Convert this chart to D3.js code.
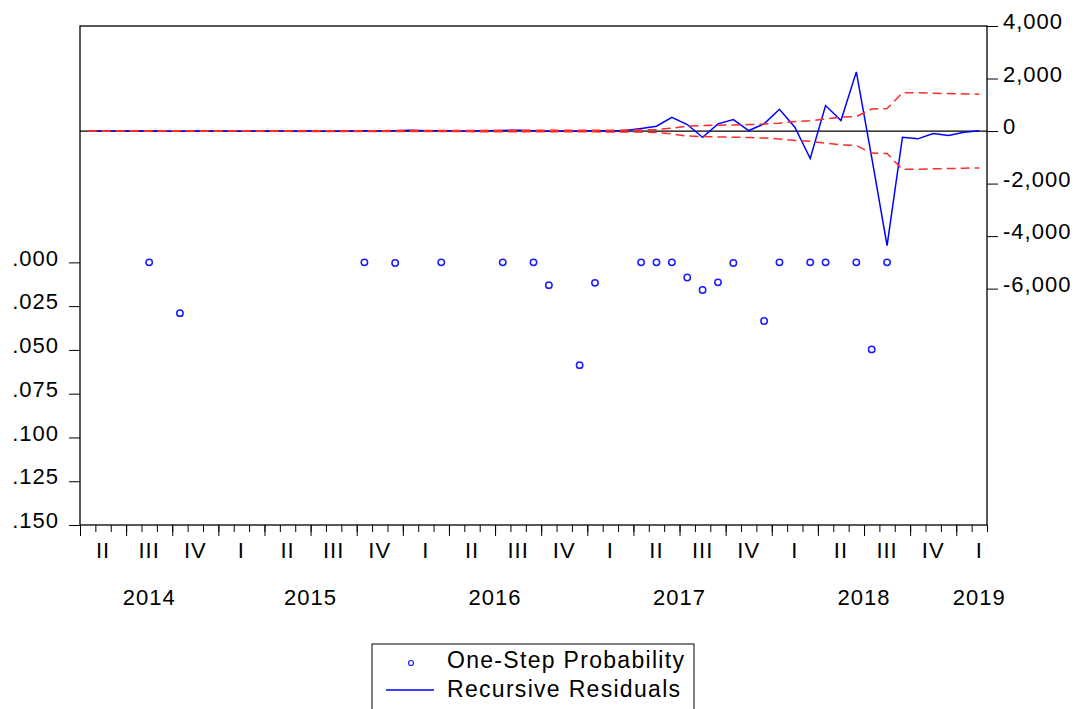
<!DOCTYPE html>
<html>
<head>
<meta charset="utf-8">
<script src="https://cdn.jsdelivr.net/npm/d3@7"></script>
<style>
body{margin:0;background:#fff;}
text{font-family:"Liberation Sans",Arial,sans-serif;font-size:22px;letter-spacing:1px;fill:#000;}
.ltxt{font-size:23px;letter-spacing:1.3px;}
</style>
</head>
<body>
<svg id="chart"></svg>
<script>
// recursive residuals, +/- 2 S.E. and one-step probability (monthly)

var w=1082,h=709;
var startYear=2014,startMonth=4;

// data, one value per month from 2014M04
var residuals=[0,3,-2,4,10,-3,-6,2,4,1,-3,5,2,-2,3,0,-4,6,9,2,12,30,15,8,-3,4,12,25,28,14,-8,6,-12,10,4,19,
	95,183,525,248,-236,274,438,19,274,830,145,-1047,971,400,2254,-1000,-4360,-236,-297,-95,-171,-46,8];
var band=[6,6,7,7,8,8,9,9,10,10,11,11,12,12,13,13,14,15,15,16,17,18,19,20,21,22,23,24,25,26,27,28,30,31,33,36,
	40,57,108,190,209,222,235,247,266,300,362,390,462,527,552,838,857,1458,1455,1440,1428,1415,1405];
var probability=[null,null,null,null,0,null,0.029,null,null,null,null,null,null,null,null,null,null,null,
	0,null,0.0004,null,null,0,null,null,null,0,null,0,0.013,null,0.0587,0.0117,null,null,
	0,0,0,0.0086,0.0158,0.0114,0.0004,null,0.0335,0,null,0,0,null,0,0.0497,0,null,null,null,null,null,null];

var roman=["I","II","III","IV"];
var leftTicks=[0,0.025,0.05,0.075,0.1,0.125,0.15];
var rightTicks=[-6000,-4000,-2000,0,2000,4000];
var legendItems=["One-Step Probability","Recursive Residuals"];

// layout

var L=80,R=987,T=26,B=525;
var n=residuals.length;
var svg=d3.select("#chart").attr("width",w).attr("height",h);

var x=d3.scaleLinear().domain([0,n]).range([L,R]);
var yR=d3.scaleLinear().domain([-15000,4000]).range([B,T]);
var yL=d3.scaleLinear().domain([-0.135,0.15]).range([T,B]);

function cx(i) {return x(i+0.5);}

// quarters and years
var quarters=[];
d3.range(n).forEach(function(i) {
	var m=(startMonth-1+i)%12, yr=startYear+Math.floor((startMonth-1+i)/12);
	if (m%3==0) quarters.push({start:i,label:roman[m/3],year:yr});
});
var years=d3.groups(quarters,function(d) {return d.year;}).map(function(g) {
	return {year:g[0],pos:d3.mean(g[1],function(d) {return x(d.start+1.5);})};
});

// axes
var minor=d3.axisBottom(x).tickValues(d3.range(0,n+1)).tickSize(7).tickFormat("");
var major=d3.axisBottom(x).tickValues(quarters.map(function(d) {return d.start;})).tickSize(11).tickFormat("");
svg.append("g").attr("transform","translate(0,"+B+")").call(minor);
svg.append("g").attr("transform","translate(0,"+B+")").call(major);

var left=d3.axisLeft(yL).tickValues(leftTicks).tickSize(11).tickPadding(10)
	.tickFormat(function(d) {return d3.format(".3f")(d).replace(/^0/,"");});
svg.append("g").attr("transform","translate("+L+",0)").call(left);

var right=d3.axisRight(yR).tickValues(rightTicks).tickSize(11).tickPadding(5)
	.tickFormat(function(d) {return d3.format(",")(d).replace("\u2212","-");});
svg.append("g").attr("transform","translate("+R+",0)").call(right);

svg.selectAll(".domain").remove();
svg.selectAll(".tick line").style("stroke","#000").style("stroke-width",1);
svg.selectAll(".tick text").attr("font-size",null).attr("font-family",null).attr("dy","0.12em");

svg.selectAll(".qlab").data(quarters).enter().append("text")
	.attr("x",function(d) {return x(d.start+1.5);}).attr("y",558)
	.attr("text-anchor","middle").text(function(d) {return d.label;});
svg.selectAll(".ylab").data(years).enter().append("text")
	.attr("x",function(d) {return d.pos;}).attr("y",605)
	.attr("text-anchor","middle").text(function(d) {return d.year;});

// zero line
svg.append("line").attr("x1",L).attr("x2",R).attr("y1",yR(0)).attr("y2",yR(0))
	.style("stroke","#000").style("stroke-width",1.2);

// residuals
var line=d3.line().x(function(d,i) {return cx(i);}).y(function(d) {return yR(d);});
svg.append("path").attr("d",line(residuals))
	.style("fill","none").style("stroke","#0000ff").style("stroke-width",1.5);

// bands
[1,-1].forEach(function(s) {
	svg.append("path").attr("d",line(band.map(function(d) {return s*d;})))
		.style("fill","none").style("stroke","#ff2a2a").style("stroke-width",1.5)
		.style("stroke-dasharray","9 5");
});

// one-step probability
svg.selectAll(".prob").data(probability.map(function(d,i) {return {i:i,p:d};}).filter(function(d) {return d.p!=null;}))
	.enter().append("circle")
	.attr("cx",function(d) {return cx(d.i);})
	.attr("cy",function(d) {return yL(d.p);})
	.attr("r",3.2)
	.style("fill","none").style("stroke","#1a1aff").style("stroke-width",1.5);

// frame
svg.append("rect").attr("x",L).attr("y",T).attr("width",R-L).attr("height",B-T)
	.style("fill","none").style("stroke","#000").style("stroke-width",1.3);

// legend
var lg=svg.append("g");
lg.append("rect").attr("x",372).attr("y",644).attr("width",322).attr("height",90)
	.style("fill","none").style("stroke","#000").style("stroke-width",1);
lg.append("circle").attr("cx",411).attr("cy",663).attr("r",2.5)
	.style("fill","none").style("stroke","#1a1aff").style("stroke-width",1.2);
lg.append("line").attr("x1",386).attr("x2",434).attr("y1",690).attr("y2",690)
	.style("stroke","#0000ff").style("stroke-width",1.3);
lg.selectAll(".ltxt").data(legendItems).enter().append("text")
	.attr("class","ltxt")
	.attr("x",447).attr("y",function(d,i) {return 668+i*29;})
	.text(function(d) {return d;});
</script>
</body>
</html>
